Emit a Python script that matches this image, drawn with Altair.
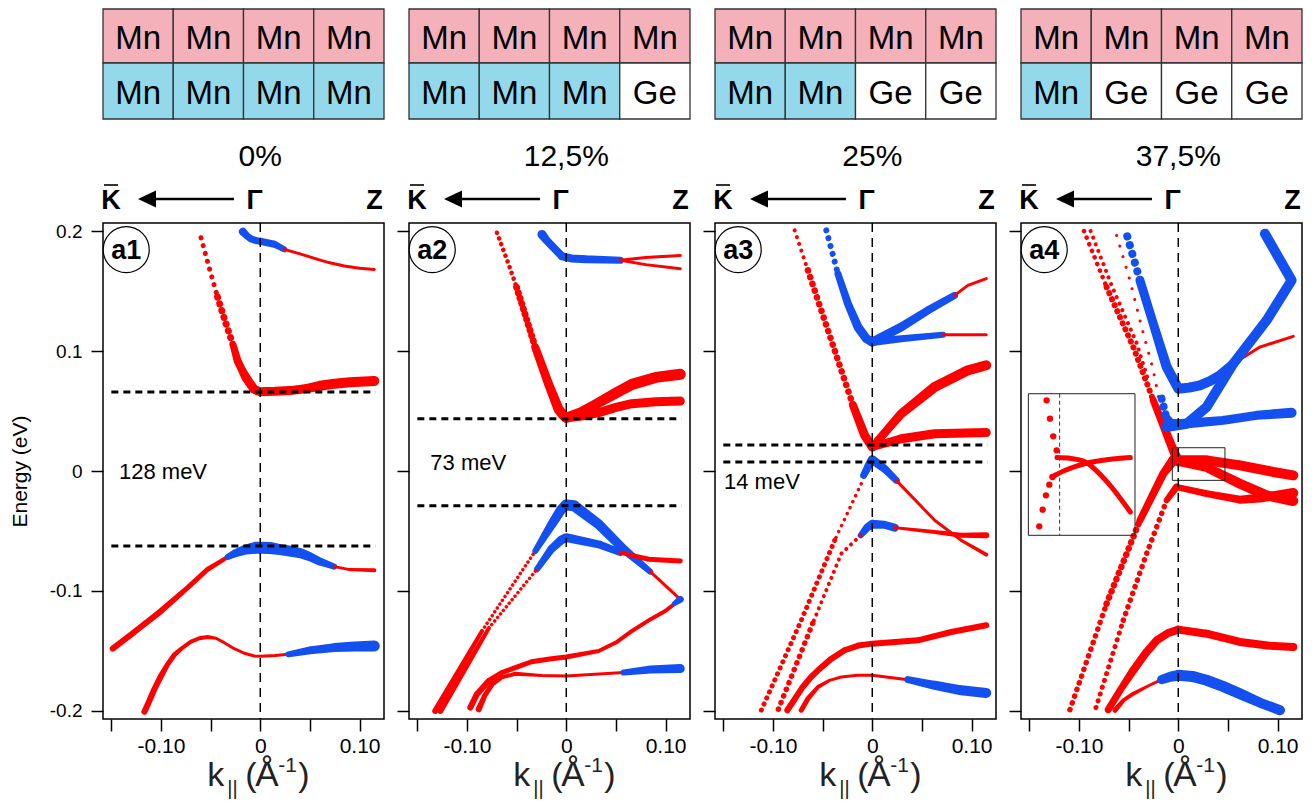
import altair as alt
import pandas as pd

# ---------------- geometry / style constants ----------------
KMIN, KMAX = -0.1584, 0.1246
EMIN, EMAX = -0.2067, 0.2067
PW, PH = 281, 496
HH = 214
FONT = "Liberation Sans"
RED = "#FF0000"
BLUE = "#1450F0"
PINK = "#F4B1BA"
CYAN = "#93D9EB"

# ---------------- header data ----------------
PANELS = ["a1", "a2", "a3", "a4"]
PERCENTS = ["0%", "12,5%", "25%", "37,5%"]
TOP_ROW = [["Mn", "Mn", "Mn", "Mn"]] * 4
BOTTOM_ROW = [["Mn", "Mn", "Mn", "Mn"],
              ["Mn", "Mn", "Mn", "Ge"],
              ["Mn", "Mn", "Ge", "Ge"],
              ["Mn", "Ge", "Ge", "Ge"]]
ROW_Y = [(0, 54), (54, 110)]
ROW_TEXT_Y = [40, 95]
DIR_LABELS = ["K", "\u0393", "Z"]
DIR_K = [-0.1504, -0.0058, 0.1151]

# ---------------- axis ticks ----------------
XTICKS = [-0.15, -0.10, -0.05, 0.0, 0.05, 0.10]
YTICKS = [-0.2, -0.1, 0.0, 0.1, 0.2]

# ---------------- gaps ----------------
GAP_LINES = [[0.0658, -0.0625], [0.0436, -0.029], [0.0217, 0.0075], []]
GAP_TEXT = ["128 meV", "73 meV", "14 meV", None]
GAP_TEXT_K = [-0.1423, -0.1369, -0.1493, None]
GAP_TEXT_E = [-0.007, 0.0006, -0.0147, None]

# ---------------- band segments (color, style, points) ----------------
# style "s": solid trail with (k, E, width); (w, gap): dotted line with (k, E)
A1 = [
    ("r", (5, 8), [(-0.0597, 0.1944), (-0.0496, 0.164), (-0.043, 0.145)]),
    ("r", (7, 7), [(-0.043, 0.145), (-0.0345, 0.1225), (-0.027, 0.104)]),
    ("r", "s", [(-0.027, 0.104, 7), (-0.0228, 0.0917, 8), (-0.0186, 0.0845, 8), (-0.0144, 0.0778, 9),
                (-0.01, 0.0725, 9), (-0.006, 0.068, 9), (0, 0.066, 9), (0.015, 0.0664, 9), (0.03, 0.067, 9),
                (0.045, 0.0685, 9), (0.06, 0.071, 10), (0.075, 0.0728, 10), (0.09, 0.074, 10), (0.1148, 0.075, 10)]),
    ("b", "s", [(-0.0175, 0.1995, 8), (-0.0135, 0.196, 7), (-0.0094, 0.1935, 7), (-0.004, 0.192, 7), (0, 0.1915, 7),
                (0.0141, 0.189, 7), (0.0242, 0.1847, 6)]),
    ("r", "s", [(0.0242, 0.1847, 3), (0.04, 0.181, 3), (0.0578, 0.1764, 3), (0.07, 0.1735, 3), (0.0846, 0.1708, 3),
                (0.1, 0.169, 3), (0.1148, 0.168, 3)]),
    ("r", "s", [(-0.1486, -0.148, 6), (-0.1269, -0.1342, 6), (-0.1, -0.1167, 6), (-0.0731, -0.0972, 5),
                (-0.053, -0.0819, 5), (-0.0328, -0.0717, 4)]),
    ("b", "s", [(-0.0328, -0.0717, 6), (-0.025, -0.0685, 8), (-0.015, -0.0655, 10), (-0.005, -0.064, 12),
                (0, -0.064, 12), (0.01, -0.0642, 12), (0.02, -0.0655, 11), (0.03, -0.0668, 11),
                (0.041, -0.0686, 10), (0.05, -0.0715, 9), (0.06, -0.0755, 8), (0.0745, -0.0797, 6)]),
    ("r", "s", [(0.0745, -0.0797, 3), (0.09, -0.0822, 3), (0.1148, -0.0828, 4)]),
    ("r", "s", [(-0.1167, -0.2006, 6), (-0.1118, -0.1917, 6), (-0.1067, -0.1819, 6), (-0.1, -0.1708, 6),
                (-0.0933, -0.1611, 5), (-0.0866, -0.1533, 5), (-0.0781, -0.1472, 4), (-0.0698, -0.1422, 4),
                (-0.0614, -0.1394, 4), (-0.053, -0.1383, 4), (-0.0446, -0.1394, 3), (-0.0363, -0.1431, 3),
                (-0.0262, -0.1481, 3), (-0.0161, -0.1519, 3), (-0.006, -0.1542, 3), (0, -0.1544, 3),
                (0.015, -0.1538, 3), (0.0282, -0.1528, 3)]),
    ("b", "s", [(0.0282, -0.1528, 6), (0.05, -0.1495, 8), (0.0745, -0.1472, 9), (0.095, -0.1462, 10),
                (0.1148, -0.1458, 11)]),
]

A2 = [
    ("b", "s", [(-0.0245, 0.1972, 9), (-0.0195, 0.192, 8), (-0.0144, 0.1875, 8), (-0.0043, 0.179, 8),
                (0.005, 0.1772, 8), (0.02, 0.1765, 8), (0.0544, 0.1756, 7)]),
    ("r", "s", [(0.0544, 0.1756, 3), (0.08, 0.178, 3), (0.1148, 0.1797, 3)]),
    ("r", "s", [(0.0544, 0.1756, 3), (0.08, 0.172, 3), (0.1148, 0.1686, 3)]),
    ("r", (4.5, 6), [(-0.0698, 0.1986), (-0.058, 0.1722), (-0.05, 0.153)]),
    ("r", (7, 5.5), [(-0.05, 0.153), (-0.0446, 0.1389), (-0.0311, 0.1028)]),
    ("r", "s", [(-0.0311, 0.1028, 8), (-0.0177, 0.0722, 9), (-0.0077, 0.0514, 10), (-0.003, 0.0465, 10),
                (0, 0.0444, 10)]),
    ("r", "s", [(0, 0.0444, 10), (0.015, 0.049, 10), (0.0326, 0.0569, 10), (0.05, 0.065, 11), (0.0662, 0.0722, 11),
                (0.09, 0.078, 11), (0.1148, 0.0806, 11)]),
    ("r", "s", [(0, 0.0444, 9), (0.015, 0.0458, 9), (0.0326, 0.0486, 9), (0.05, 0.053, 9), (0.066, 0.0561, 9),
                (0.09, 0.0578, 9), (0.1148, 0.0583, 9)]),
    ("r", "s", [(-0.132, -0.2, 6), (-0.108, -0.166, 5), (-0.0849, -0.1333, 4)]),
    ("r", (3.5, 4.5), [(-0.0849, -0.1333), (-0.0312, -0.0667)]),
    ("b", "s", [(-0.0312, -0.0667, 6), (-0.015, -0.045, 9), (-0.005, -0.032, 10), (0, -0.0283, 11),
                (0.008, -0.029, 11), (0.0326, -0.0444, 10), (0.0561, -0.0639, 9), (0.0846, -0.0839, 6)]),
    ("r", "s", [(0.0846, -0.0839, 3), (0.1148, -0.107, 3)]),
    ("r", "s", [(-0.1269, -0.2, 6), (-0.1, -0.162, 5), (-0.078, -0.131, 4)]),
    ("r", (3.5, 4.5), [(-0.078, -0.131), (-0.0295, -0.0819)]),
    ("b", "s", [(-0.0295, -0.0819, 6), (-0.015, -0.065, 8), (-0.005, -0.0575, 9), (0, -0.0556, 9),
                (0.0326, -0.0611, 8), (0.0544, -0.068, 7)]),
    ("r", "s", [(0.0544, -0.068, 4), (0.083, -0.0736, 5), (0.1148, -0.075, 5)]),
    ("r", "s", [(-0.0967, -0.1972, 6), (-0.09, -0.186, 6), (-0.0781, -0.175, 6), (-0.065, -0.168, 5),
                (-0.0513, -0.1639, 5), (-0.035, -0.159, 5), (-0.015, -0.1565, 5), (0, -0.155, 5),
                (0.0326, -0.15, 4), (0.05, -0.143, 4), (0.0662, -0.1333, 4), (0.085, -0.1235, 4),
                (0.0997, -0.1167, 4), (0.1148, -0.107, 4)]),
    ("b", "s", [(0.109, -0.1105, 5), (0.1148, -0.107, 7)]),
    ("r", "s", [(-0.0882, -0.1986, 6), (-0.082, -0.187, 5), (-0.0748, -0.1778, 5), (-0.065, -0.172, 4),
                (-0.0513, -0.169, 4), (-0.025, -0.1705, 3), (0, -0.1708, 3), (0.0578, -0.168, 3)]),
    ("b", "s", [(0.0578, -0.168, 6), (0.085, -0.1655, 8), (0.1148, -0.1647, 9)]),
]

A3 = [
    ("b", (6, 8), [(-0.0463, 0.2006), (-0.0346, 0.1644)]),
    ("b", "s", [(-0.0346, 0.1644, 7), (-0.0245, 0.1394, 8), (-0.0144, 0.12, 9), (-0.006, 0.1103, 9), (0, 0.1075, 9)]),
    ("b", "s", [(0, 0.1075, 9), (0.0292, 0.12, 9), (0.0561, 0.1339, 8), (0.0829, 0.1464, 7)]),
    ("r", "s", [(0.0829, 0.1464, 3), (0.0963, 0.1547, 3), (0.1148, 0.1603, 3)]),
    ("b", "s", [(0, 0.1075, 8), (0.0292, 0.1103, 7), (0.0712, 0.1136, 6)]),
    ("r", "s", [(0.0712, 0.1136, 3), (0.1148, 0.1136, 3)]),
    ("r", (4, 7), [(-0.0782, 0.2006), (-0.0648, 0.1672)]),
    ("r", (6.5, 7), [(-0.0648, 0.1672), (-0.048, 0.1256), (-0.0312, 0.0839), (-0.0195, 0.055)]),
    ("r", "s", [(-0.0195, 0.055, 8), (-0.0077, 0.0297, 9), (0, 0.02, 9)]),
    ("r", "s", [(0, 0.02, 8), (0.0292, 0.0478, 9), (0.0628, 0.07, 10), (0.0963, 0.0839, 10), (0.1148, 0.0881, 10)]),
    ("r", "s", [(0, 0.02, 8), (0.0292, 0.0269, 9), (0.0628, 0.0311, 9), (0.1148, 0.032, 9)]),
    ("b", "s", [(-0.0087, -0.0036, 7), (-0.004, 0.004, 8), (0, 0.0094, 9), (0.0124, 0.0019, 8), (0.0242, -0.0078, 7)]),
    ("r", "s", [(0.0242, -0.0078, 3), (0.0628, -0.0411, 3), (0.0896, -0.0578, 3), (0.1148, -0.0697, 4)]),
    ("r", (3.5, 6.5), [(-0.0111, -0.0106), (-0.0379, -0.0578)]),
    ("r", (5, 6.5), [(-0.0379, -0.0578), (-0.0715, -0.1244), (-0.1118, -0.1994)]),
    ("r", (4, 6.5), [(-0.0117, -0.0536), (-0.0312, -0.0689), (-0.06, -0.127)]),
    ("r", (5.5, 7), [(-0.06, -0.127), (-0.095, -0.1994)]),
    ("b", "s", [(-0.0117, -0.0536, 6), (-0.005, -0.047, 8), (0, -0.0444, 9), (0.012, -0.0448, 8), (0.0225, -0.0472, 8)]),
    ("r", "s", [(0.0225, -0.0472, 3), (0.0628, -0.0508, 4), (0.0896, -0.0536, 5), (0.1148, -0.0536, 6)]),
    ("r", "s", [(-0.0856, -0.1994, 6), (-0.078, -0.19, 6), (-0.07, -0.18, 6), (-0.062, -0.172, 6),
                (-0.0547, -0.1661, 6), (-0.042, -0.157, 6), (-0.0279, -0.1494, 6), (-0.014, -0.1455, 6),
                (0, -0.1439, 6), (0.046, -0.1411, 6), (0.0796, -0.1342, 6), (0.1148, -0.1286, 6)]),
    ("r", "s", [(-0.0715, -0.1994, 5), (-0.065, -0.19, 5), (-0.0547, -0.18, 4), (-0.043, -0.1745, 3),
                (-0.0312, -0.1717, 3), (-0.015, -0.1703, 3), (0, -0.1703, 3), (0.0359, -0.1739, 3)]),
    ("b", "s", [(0.0359, -0.1739, 7), (0.0628, -0.1786, 9), (0.0896, -0.1828, 10), (0.1148, -0.185, 10)]),
]

A4 = [
    ("r", (4.5, 7), [(-0.095, 0.2), (-0.0722, 0.1533)]),
    ("r", (6, 6.5), [(-0.0722, 0.1533), (-0.0453, 0.1033), (-0.0252, 0.0589)]),
    ("r", "s", [(-0.0252, 0.0589, 7), (-0.015, 0.038, 8), (-0.005, 0.0172, 9), (0, 0.008, 10)]),
    ("r", (4, 7), [(-0.0883, 0.2), (-0.0665, 0.1533), (-0.042, 0.1067), (-0.03, 0.075)]),
    ("r", (3, 11), [(-0.0621, 0.1964), (-0.0487, 0.1589), (-0.0369, 0.12), (-0.0252, 0.0839), (-0.0151, 0.0422)]),
    ("b", (8, 9), [(-0.0514, 0.1956), (-0.0386, 0.1589)]),
    ("b", "s", [(-0.0386, 0.1589, 9), (-0.0252, 0.1228, 9), (-0.0117, 0.0867, 10), (0, 0.0686, 10),
                (0.0109, 0.0695, 10), (0.0218, 0.0714, 10), (0.032, 0.075, 10), (0.042, 0.0797, 10), (0.0554, 0.0894, 9)]),
    ("r", "s", [(0.0554, 0.0894, 3), (0.0822, 0.1033, 3), (0.1158, 0.1122, 3)]),
    ("b", "s", [(0.0873, 0.1978, 10), (0.1141, 0.1589, 10), (0.089, 0.1256, 10), (0.0554, 0.0894, 10),
                (0.0285, 0.0533, 10), (0.0084, 0.0394, 10), (-0.0117, 0.0367, 10)]),
    ("b", (8, 8), [(-0.0168, 0.0603), (-0.0117, 0.0436)]),
    ("b", "s", [(-0.0117, 0.0436, 9), (-0.008, 0.0395, 10), (0, 0.0389, 10), (0.0453, 0.0422, 9),
                (0.0789, 0.0464, 9), (0.1141, 0.0486, 10)]),
    ("r", (5.5, 7), [(-0.1091, -0.1989), (-0.0722, -0.1106)]),
    ("r", (6.5, 6.5), [(-0.0722, -0.1106), (-0.0386, -0.0411)]),
    ("r", "s", [(-0.0386, -0.0411, 7), (-0.0151, -0.0022, 8), (-0.005, 0.0089, 10)]),
    ("r", (5, 7), [(-0.0829, -0.1972), (-0.0554, -0.1244)]),
    ("r", (5.5, 7), [(-0.0554, -0.1244), (-0.0319, -0.0689), (-0.0117, -0.0244)]),
    ("r", "s", [(-0.0117, -0.0244, 6), (-0.0017, -0.0133, 7)]),
    ("r", "s", [(-0.005, 0.0089, 10), (0.0285, 0.0089, 10), (0.0621, 0.0047, 10), (0.0957, -0.0008, 10), (0.1158, -0.0036, 10)]),
    ("r", "s", [(-0.005, 0.0089, 9), (0.0285, 0.003, 9), (0.0621, -0.0106, 10), (0.089, -0.0203, 10), (0.1158, -0.025, 10)]),
    ("r", "s", [(-0.0017, -0.0133, 6), (0.0285, -0.0189, 7), (0.0621, -0.0239, 8), (0.082, -0.0225, 9), (0.1158, -0.0183, 10)]),
    ("r", "s", [(-0.0705, -0.1989, 7), (-0.058, -0.182, 7), (-0.0453, -0.1661, 8), (-0.033, -0.152, 8),
                (-0.0218, -0.1411, 8), (-0.01, -0.135, 8), (0, -0.1322, 8), (0.0285, -0.1356, 8),
                (0.0621, -0.1425, 8), (0.09, -0.1455, 8), (0.1158, -0.1467, 8)]),
    ("r", "s", [(-0.0638, -0.1994, 5), (-0.055, -0.191, 4), (-0.0453, -0.1856, 4), (-0.03, -0.179, 3),
                (-0.0168, -0.1739, 3)]),
    ("b", "s", [(-0.0168, -0.1739, 9), (-0.008, -0.1715, 10), (0, -0.1703, 11), (0.0142, -0.1712, 11),
                (0.0285, -0.1744, 11), (0.045, -0.1795, 11), (0.0621, -0.1856, 11), (0.082, -0.193, 10),
                (0.1024, -0.1994, 10)]),
]
ALL_BANDS = [A1, A2, A3, A4]

# ---------------- a4 inset ----------------
INSET_BOX = (-0.151, -0.0436, 0.0644, -0.0536)
ZOOM_BOX = (-0.006, 0.047, 0.0194, -0.0078)
INSET_DASH_K = -0.1195
INSET_DOTS_K = [-0.1326, -0.1292, -0.1259, -0.1225, -0.1266, -0.1299, -0.1333, -0.1366, -0.14]
INSET_DOTS_E = [0.0589, 0.0436, 0.0289, 0.0172, -0.005, -0.0114, -0.0203, -0.0322, -0.0461]
INSET_CURVES = [
    [(-0.1222, 0.0112), (-0.108, 0.0105), (-0.0937, 0.0075), (-0.0702, -0.0105), (-0.0483, -0.0342)],
    [(-0.1273, -0.005), (-0.1138, 0.0006), (-0.0937, 0.0061), (-0.0702, 0.0095), (-0.0483, 0.0112)],
]

LABEL_K, LABEL_E = -0.135, 0.1845

# ---------------- helpers ----------------
XS = alt.Scale(domain=[KMIN, KMAX], nice=False, zero=False)
YS = alt.Scale(domain=[EMIN, EMAX], nice=False, zero=False)

XLABEL_EXPR = ("abs(datum.value) < 1e-6 ? '0' : abs(datum.value + 0.1) < 1e-6 ? '-0.10' : "
               "abs(datum.value - 0.1) < 1e-6 ? '0.10' : ''")
YLABEL_EXPR = ("datum.value > 0.15 ? '0.2' : datum.value > 0.05 ? '0.1' : datum.value > -0.05 ? '0' : "
               "datum.value > -0.15 ? '-0.1' : '-0.2'")

YLAB_SIZE = 19
YTITLE_SIZE = 21
YTITLE_PAD = 19

gaps_used = sorted({t[1] for b in ALL_BANDS for (_, t, _) in b if t != "s"})
DASH_DOMAIN = ["g%s" % g for g in gaps_used]
DASH_RANGE = [[0.1, g] for g in gaps_used]


def seg_frame(segs):
    rows = []
    for si, (c, t, pts) in enumerate(segs):
        col = RED if c == "r" else BLUE
        for i, p in enumerate(pts):
            if t == "s":
                rows.append(dict(seg=si, i=i, k=p[0], E=p[1], w=p[2], col=col, style="s", dash="solid"))
            else:
                rows.append(dict(seg=si, i=i, k=p[0], E=p[1], w=t[0], col=col, style="d", dash="g%s" % t[1]))
    return pd.DataFrame(rows)


def x_axis():
    return alt.Axis(values=XTICKS, tickSize=12, tickWidth=1.5, tickColor="black", domain=False, grid=False,
                    labelFontSize=21, labelFont=FONT, labelColor="black", labelPadding=4, labelExpr=XLABEL_EXPR,
                    labelFlush=False, labelOverlap=False, title=None)


def y_axis(idx):
    if idx == 0:
        return alt.Axis(values=YTICKS, tickSize=12, tickWidth=1.5, tickColor="black", domain=False, grid=False,
                        labelFontSize=YLAB_SIZE, labelFont=FONT, labelColor="black", labelPadding=9,
                        labelExpr=YLABEL_EXPR, labelOverlap=False, labelFlush=False,
                        title="Energy (eV)", titleFontSize=YTITLE_SIZE, titleFont=FONT,
                        titleFontWeight="normal", titleColor="black", titlePadding=YTITLE_PAD)
    return alt.Axis(values=YTICKS, tickSize=12, tickWidth=1.5, tickColor="black", domain=False, grid=False,
                    labels=False, title=None)


def panel(idx):
    XA = x_axis()
    YA = y_axis(idx)

    def X(f):
        return alt.X(f, type="quantitative", scale=XS, axis=XA)

    def Y(f):
        return alt.Y(f, type="quantitative", scale=YS, axis=YA)

    df = seg_frame(ALL_BANDS[idx])
    layers = []
    layers.append(alt.Chart(df[df["style"] == "s"]).mark_trail().encode(
        x=X("k"), y=Y("E"), size=alt.Size("w:Q", scale=None),
        color=alt.Color("col:N", scale=None), detail="seg:N", order="i:Q"))
    layers.append(alt.Chart(df[df["style"] == "d"]).mark_line(strokeCap="round").encode(
        x=X("k"), y=Y("E"), color=alt.Color("col:N", scale=None),
        strokeWidth=alt.StrokeWidth("w:Q", scale=None),
        strokeDash=alt.StrokeDash("dash:N", scale=alt.Scale(domain=DASH_DOMAIN, range=DASH_RANGE), legend=None),
        detail="seg:N", order="i:Q"))

    if idx == 3:
        ib = pd.DataFrame([dict(k1=INSET_BOX[0], k2=INSET_BOX[1], E1=INSET_BOX[2], E2=INSET_BOX[3]),
                           dict(k1=ZOOM_BOX[0], k2=ZOOM_BOX[1], E1=ZOOM_BOX[2], E2=ZOOM_BOX[3])])
        layers.append(alt.Chart(ib).mark_rect(filled=False, stroke="#222", strokeWidth=1).encode(
            x=X("k1"), x2="k2", y=Y("E1"), y2="E2"))
        layers.append(alt.Chart(pd.DataFrame([dict(k=INSET_DASH_K, E1=INSET_BOX[2], E2=INSET_BOX[3])])).mark_rule(
            color="#333", strokeWidth=1, strokeDash=[4, 3]).encode(x=X("k"), y=Y("E1"), y2="E2"))
        layers.append(alt.Chart(pd.DataFrame({"k": INSET_DOTS_K, "E": INSET_DOTS_E})).mark_circle(
            size=40, color=RED, opacity=1).encode(x=X("k"), y=Y("E")))
        crow = []
        for ci, cur in enumerate(INSET_CURVES):
            for i, (k, e) in enumerate(cur):
                crow.append(dict(seg=ci, i=i, k=k, E=e))
        layers.append(alt.Chart(pd.DataFrame(crow)).mark_line(color=RED, strokeWidth=5, strokeCap="round",
                                                              interpolate="monotone").encode(
            x=X("k"), y=Y("E"), detail="seg:N", order="i:Q"))

    # Gamma line
    layers.append(alt.Chart(pd.DataFrame({"k": [0.0]})).mark_rule(
        color="black", strokeWidth=1.5, strokeDash=[9, 6]).encode(x=X("k")))
    # gap lines
    if GAP_LINES[idx]:
        gl = pd.DataFrame({"k1": -0.15, "k2": 0.116, "E": GAP_LINES[idx]})
        layers.append(alt.Chart(gl).mark_rule(color="black", strokeWidth=3, strokeDash=[7, 5]).encode(
            x=X("k1"), x2="k2", y=Y("E")))
        layers.append(alt.Chart(pd.DataFrame([dict(k=GAP_TEXT_K[idx], E=GAP_TEXT_E[idx], t=GAP_TEXT[idx])]))
                      .mark_text(align="left", baseline="alphabetic", fontSize=22, font=FONT, color="black")
                      .encode(x=X("k"), y=Y("E"), text="t:N"))
    # frame
    fr = pd.DataFrame([dict(k1=KMIN, k2=KMAX, E1=EMIN, E2=EMAX)])
    layers.append(alt.Chart(fr).mark_rect(filled=False, stroke="black", strokeWidth=1.5).encode(
        x=X("k1"), x2="k2", y=Y("E1"), y2="E2"))
    # panel label
    lab = pd.DataFrame([dict(k=LABEL_K, E=LABEL_E, t=PANELS[idx])])
    layers.append(alt.Chart(lab).mark_point(shape="circle", filled=True, color="white", stroke="black",
                                            strokeWidth=1.2, size=2116, opacity=1).encode(x=X("k"), y=Y("E")))
    layers.append(alt.Chart(lab).mark_text(fontSize=27, fontWeight="bold", font=FONT, color="black",
                                           baseline="middle", dy=1).encode(x=X("k"), y=Y("E"), text="t:N"))
    # x title  k|| (Å-1)
    pieces = [("k", -53, 67, 34), ("||", -33, 76, 20), ("(", -15, 67, 34), ("\u00c5", -5, 67, 35),
              ("-1", 18, 53, 21), (")", 38, 67, 34)]
    base = pd.DataFrame([dict(k=0.0, E=EMIN)])
    for txt, dx, dy, fs in pieces:
        layers.append(alt.Chart(base).mark_text(text=txt, align="left", baseline="alphabetic", dx=dx, dy=dy,
                                                fontSize=fs, font=FONT, color="#222").encode(x=X("k"), y=Y("E")))
    return alt.layer(*layers).properties(width=PW, height=PH)


def header(idx):
    HX = alt.Scale(domain=[KMIN, KMAX], nice=False, zero=False)
    HY = alt.Scale(domain=[0, HH], nice=False, zero=False, reverse=True)

    def X(f):
        return alt.X(f, type="quantitative", scale=HX, axis=None)

    def Y(f):
        return alt.Y(f, type="quantitative", scale=HY, axis=None)

    cw = (KMAX - KMIN) / 4
    rows = []
    for r, names in enumerate([TOP_ROW[idx], BOTTOM_ROW[idx]]):
        for j, nm in enumerate(names):
            fill = PINK if r == 0 else (CYAN if nm == "Mn" else "white")
            x0 = KMIN + j * cw
            rows.append(dict(x0=x0, x1=x0 + cw, xc=x0 + cw / 2, y0=ROW_Y[r][0], y1=ROW_Y[r][1],
                             ty=ROW_TEXT_Y[r], fill=fill, t=nm))
    cells = pd.DataFrame(rows)
    layers = [
        alt.Chart(cells).mark_rect(stroke="#333", strokeWidth=1.3).encode(
            x=X("x0"), x2="x1", y=Y("y0"), y2="y1", fill=alt.Fill("fill:N", scale=None)),
        alt.Chart(cells).mark_text(fontSize=33, font=FONT, color="black", baseline="alphabetic").encode(
            x=X("xc"), y=Y("ty"), text="t:N"),
        alt.Chart(pd.DataFrame([dict(k=0.0, y=157, t=PERCENTS[idx])])).mark_text(
            fontSize=30, font=FONT, color="black", baseline="alphabetic").encode(x=X("k"), y=Y("y"), text="t:N"),
        alt.Chart(pd.DataFrame({"k": DIR_K, "y": 200, "t": DIR_LABELS})).mark_text(
            fontSize=27, font=FONT, fontWeight="bold", color="black", baseline="alphabetic").encode(
            x=X("k"), y=Y("y"), text="t:N"),
        alt.Chart(pd.DataFrame([dict(k1=-0.1574, k2=-0.1433, y=176)])).mark_rule(
            color="black", strokeWidth=1.6).encode(x=X("k1"), x2="k2", y=Y("y")),
        alt.Chart(pd.DataFrame([dict(k1=-0.112, k2=-0.0265, y=190)])).mark_rule(
            color="black", strokeWidth=2.5).encode(x=X("k1"), x2="k2", y=Y("y")),
        alt.Chart(pd.DataFrame([dict(k=-0.1141, y=190)])).mark_point(
            shape="M-1,0L1,-0.95L1,0.95Z", filled=True, color="black", size=324, opacity=1).encode(
            x=X("k"), y=Y("y")),
    ]
    return alt.layer(*layers).properties(width=PW, height=HH)


cols = [alt.vconcat(header(i), panel(i), spacing=0, bounds="flush") for i in range(4)]
chart = (alt.hconcat(*cols, spacing=11)
         .properties(padding={"left": 1, "top": 0, "right": 0, "bottom": 0})
         .configure(font=FONT)
         .configure_view(stroke=None))

chart.save("out.html", embed_options={"renderer": "svg", "actions": False})
